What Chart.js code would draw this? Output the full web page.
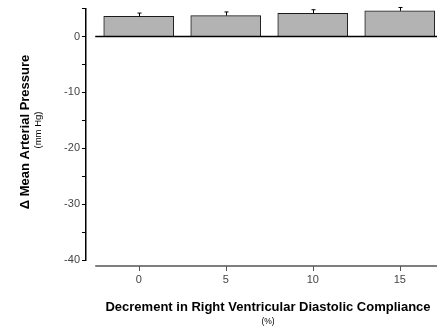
<!DOCTYPE html>
<html>
<head>
<meta charset="utf-8">
<script src="https://cdn.jsdelivr.net/npm/chart.js@4"></script>
<style>body{margin:0;background:#fff}</style>
</head>
<body>
<canvas id="myChart" width="437" height="329"></canvas>
<script>
// Decrement in RV diastolic compliance (%)
var categories = [0, 5, 10, 15];
// Change in mean arterial pressure (mm Hg) and upper error
var meanChange = [3.6, 3.75, 4.15, 4.6];
var errorUp = [0.6, 0.65, 0.65, 0.6];
var yLabelValues = [0, -10, -20, -30, -40];

var FONT = "'Liberation Sans', Arial, Helvetica, sans-serif";

// Axis lines, zero line, error bars and titles
var decorPlugin = {
  id: 'decor',
  afterDatasetsDraw: function (chart) {
    var ctx = chart.ctx;
    var xs = chart.scales.x, ys = chart.scales.y;
    var area = chart.chartArea;
    var left = xs.getPixelForValue(-2.5);

    ctx.save();
    ctx.strokeStyle = '#000';
    // zero line
    var y0 = ys.getPixelForValue(0);
    ctx.lineWidth = 1.5;
    ctx.beginPath();
    ctx.moveTo(left, y0);
    ctx.lineTo(area.right, y0);
    ctx.stroke();

    // detached x axis
    var xAxisY = ys.getPixelForValue(-40) + 6;
    ctx.strokeStyle = '#555';
    ctx.lineWidth = 1.5;
    ctx.beginPath();
    ctx.moveTo(left, xAxisY);
    ctx.lineTo(area.right, xAxisY);
    ctx.stroke();
    ctx.lineWidth = 1;
    categories.forEach(function (c) {
      var px = Math.round(xs.getPixelForValue(c)) + 0.5;
      ctx.beginPath();
      ctx.moveTo(px, xAxisY);
      ctx.lineTo(px, xAxisY + 5);
      ctx.stroke();
    });

    // error bars (upper only)
    ctx.strokeStyle = '#000';
    var meta = chart.getDatasetMeta(0);
    meta.data.forEach(function (bar, i) {
      var px = Math.round(bar.x) + 0.5;
      var top = ys.getPixelForValue(meanChange[i] + errorUp[i]);
      ctx.beginPath();
      ctx.moveTo(px, bar.y);
      ctx.lineTo(px, top);
      ctx.moveTo(px - 2, top);
      ctx.lineTo(px + 2, top);
      ctx.stroke();
    });

    // titles
    ctx.fillStyle = '#000';
    ctx.textAlign = 'center';
    ctx.textBaseline = 'alphabetic';
    ctx.font = 'bold 13px ' + FONT;
    ctx.fillText('Decrement in Right Ventricular Diastolic Compliance', 268, 311);
    ctx.font = '8.5px ' + FONT;
    ctx.fillText('(%)', 268, 324);

    ctx.translate(0, 132);
    ctx.rotate(-Math.PI / 2);
    ctx.font = 'bold 13px ' + FONT;
    ctx.fillText('\u0394 Mean Arterial Pressure', 0, 28.5);
    ctx.font = '9.5px ' + FONT;
    ctx.fillText('(mm Hg)', 2, 41);
    ctx.restore();
  }
};

var ctx = document.getElementById('myChart');
var chart = new Chart(ctx, {
  type: 'bar',
  data: {
    datasets: [{
      data: categories.map(function (c, i) { return { x: c, y: meanChange[i] }; }),
      backgroundColor: '#b3b3b3',
      borderColor: '#1a1a1a',
      borderWidth: 1,
      borderSkipped: 'bottom',
      barThickness: 70
    }]
  },
  options: {
    responsive: false,
    animation: false,
    layout: { padding: { top: 8, right: 0, left: 0, bottom: 0 } },
    plugins: { legend: { display: false }, tooltip: { enabled: false } },
    scales: {
      x: {
        type: 'linear',
        offset: false,
        min: -3.03,
        max: 17.14,
        grid: { display: false, drawTicks: false, offset: false },
        border: { display: false },
        afterBuildTicks: function (axis) {
          axis.ticks = categories.map(function (v) { return { value: v }; });
        },
        afterFit: function (axis) { axis.height = 69; },
        ticks: {
          padding: 13,
          color: '#444',
          font: { family: FONT, size: 11 },
          callback: function (v) { return String(v); }
        }
      },
      y: {
        min: -40,
        max: 5,
        afterFit: function (axis) { axis.width = 86; },
        grid: { drawOnChartArea: false, tickLength: 4, color: '#000', tickColor: '#000' },
        border: { display: true, color: '#000', width: 1.5 },
        ticks: {
          stepSize: 5,
          padding: 2,
          color: '#444',
          font: { family: FONT, size: 11 },
          callback: function (v) {
            return yLabelValues.indexOf(v) >= 0 ? String(v) : '';
          }
        }
      }
    }
  },
  plugins: [decorPlugin]
});
</script>
</body>
</html>
